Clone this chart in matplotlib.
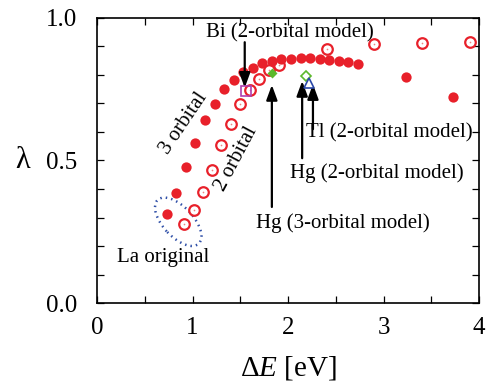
import numpy as np
import matplotlib
matplotlib.use("Agg")
import matplotlib.pyplot as plt
from matplotlib.patches import Ellipse
from matplotlib.transforms import ScaledTranslation

plt.rcParams['font.family'] = ['Liberation Serif', 'DejaVu Serif']
plt.rcParams['mathtext.fontset'] = 'custom'
plt.rcParams['mathtext.rm'] = 'Liberation Serif'
plt.rcParams['mathtext.it'] = 'Liberation Serif:italic'

# 3-orbital model
dE_3orb = [0.73, 0.83, 0.93, 1.03, 1.13, 1.23, 1.33, 1.43, 1.53, 1.63, 1.73, 1.83,
           1.93, 2.03, 2.13, 2.23, 2.33, 2.43, 2.53, 2.63, 2.73, 3.23, 3.73]
lam_3orb = [0.312, 0.386, 0.477, 0.561, 0.642, 0.698, 0.751, 0.782, 0.811, 0.825,
            0.842, 0.849, 0.856, 0.856, 0.860, 0.860, 0.856, 0.853, 0.849, 0.846,
            0.839, 0.793, 0.723]

# 2-orbital model
dE_2orb = [0.91, 1.01, 1.11, 1.20, 1.30, 1.40, 1.50, 1.60, 1.70, 1.80, 1.90,
           2.41, 2.90, 3.40, 3.90]
lam_2orb = [0.277, 0.326, 0.389, 0.467, 0.554, 0.628, 0.698, 0.747, 0.786, 0.818,
            0.835, 0.891, 0.909, 0.912, 0.916]

# materials
bi_2orb = (1.56, 0.743)
hg_3orb = (1.83, 0.807)
hg_2orb = (2.19, 0.795)
tl_2orb = (2.22, 0.772)

red = '#e8202a'

fig = plt.figure(figsize=(4.87, 3.81), dpi=100)
ax = fig.add_axes([0.1992, 0.2047, 0.7848, 0.7481])

ax.plot(dE_3orb, lam_3orb, 'o', color=red, ms=7.4, mec='none', zorder=3)
ax.plot(dE_2orb, lam_2orb, 'o', mfc='white', mec=red, mew=1.6, ms=7.6, zorder=2)
ax.plot(dE_2orb, lam_2orb, 'o', color='#f08080', ms=1.2, mec='none', zorder=2)

ax.plot(*bi_2orb, 's', mfc='none', mec='#b040b0', mew=1.2, ms=7, zorder=4)
ax.plot(*hg_3orb, 'D', color='#5cb82c', ms=5, mec='none', zorder=4)
ax.plot(*hg_2orb, 'D', mfc='white', mec='#5cb82c', mew=1.2, ms=5, zorder=4)
ax.plot(*tl_2orb, '^', mfc='white', mec='#2a48a8', mew=1.2, ms=7, zorder=4)

arrow = dict(arrowstyle='-|>,head_length=0.9,head_width=0.33', color='black',
             lw=1.6, shrinkA=0, shrinkB=0)
ax.annotate('', xy=(1.546, 0.755), xytext=(1.546, 0.915), arrowprops=arrow)
ax.annotate('', xy=(1.83, 0.765), xytext=(1.83, 0.337), arrowprops=arrow)
ax.annotate('', xy=(2.147, 0.779), xytext=(2.147, 0.508), arrowprops=arrow)
ax.annotate('', xy=(2.26, 0.768), xytext=(2.26, 0.61), arrowprops=arrow)

tfs = 15
ax.text(2.02, 0.947, 'Bi (2-orbital model)', fontsize=tfs, ha='center', va='center')
ax.text(3.06, 0.596, 'Tl (2-orbital model)', fontsize=tfs, ha='center', va='center')
ax.text(2.93, 0.456, 'Hg (2-orbital model)', fontsize=tfs, ha='center', va='center')
ax.text(2.57, 0.28, 'Hg (3-orbital model)', fontsize=tfs, ha='center', va='center')
ax.text(0.69, 0.161, 'La original', fontsize=tfs, ha='center', va='center')
ax.text(0.91, 0.632, '3 orbital', fontsize=tfs, ha='center', va='center',
        rotation=56, rotation_mode='anchor')
ax.text(1.46, 0.507, '2 orbital', fontsize=tfs, ha='center', va='center',
        rotation=62, rotation_mode='anchor')

# dotted ring round the La points
ring = Ellipse((0, 0), 0.60, 0.30, angle=-47, fill=False, ec='#3050a8',
               lw=1.8, ls=(0, (0.6, 1.6)),
               transform=fig.dpi_scale_trans + ScaledTranslation(0.85, 0.285, ax.transData))
ax.add_patch(ring)

ax.set_xlim(0, 4)
ax.set_ylim(0, 1)
ax.set_xticks([0, 1, 2, 3, 4])
ax.set_xticks(np.arange(0.5, 4, 1.0), minor=True)
ax.set_yticks([0.0, 0.5, 1.0])
ax.set_yticks([0.1, 0.2, 0.3, 0.4, 0.6, 0.7, 0.8, 0.9], minor=True)
ax.tick_params(which='both', direction='in', top=True, right=True,
               length=5, width=0.9, labelsize=18)
ax.tick_params(axis='x', pad=10)
ax.tick_params(axis='y', pad=14)
for s in ax.spines.values():
    s.set_linewidth(1.2)

ax.set_xlabel(r'$\Delta E$ [eV]', fontsize=21, labelpad=11)
ax.set_ylabel('λ', fontsize=22, rotation=0, va='center', labelpad=17)

fig.savefig('out.png', dpi=100)
